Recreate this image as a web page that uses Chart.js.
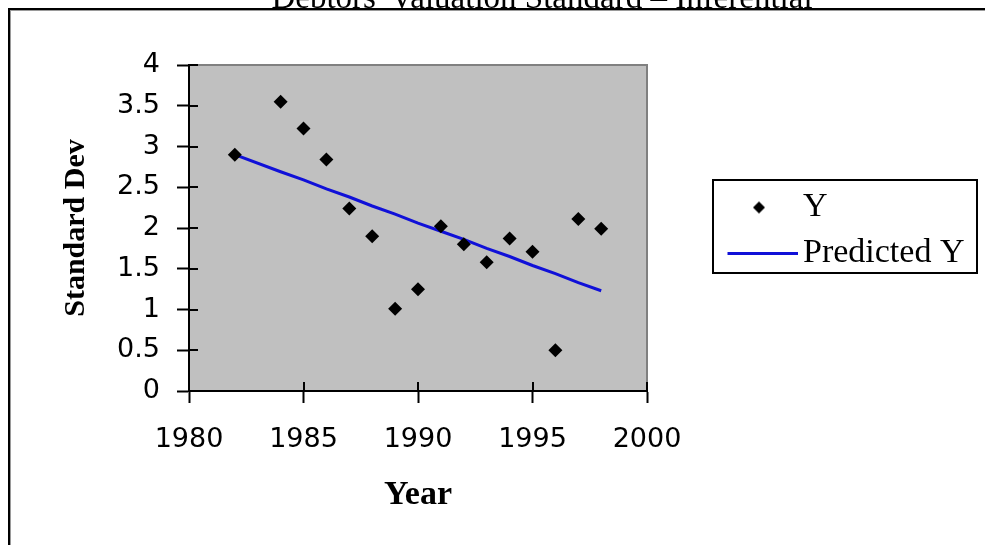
<!DOCTYPE html>
<html>
<head>
<meta charset="utf-8">
<title>Standard Dev by Year</title>
<script src="https://cdn.jsdelivr.net/npm/chart.js@4.4.0/dist/chart.umd.min.js"></script>
<style>
  html, body { margin: 0; padding: 0; background: #ffffff; }
  #wrap { width: 985px; height: 545px; position: relative; overflow: hidden; }
  canvas { display: block; }
</style>
</head>
<body>
<div id="wrap"><canvas id="chart" width="985" height="545"></canvas></div>
<script>
// ---- data ----
const chartTitle = "Debtors' Valuation Standard \u2013 Inferential";
const seriesNames = ['Y', 'Predicted Y'];
const axisTitleX = 'Year';
const axisTitleY = 'Standard Dev';

const years      = [1982, 1984, 1985, 1986, 1987, 1988, 1989, 1990, 1991, 1992, 1993, 1994, 1995, 1996, 1997, 1998];
const yValues    = [2.90, 3.55, 3.22, 2.84, 2.24, 1.90, 1.01, 1.25, 2.02, 1.80, 1.58, 1.87, 1.71, 0.50, 2.11, 1.99];
const predictedY = [2.90, 2.69, 2.59, 2.48, 2.38, 2.27, 2.17, 2.06, 1.96, 1.86, 1.75, 1.65, 1.54, 1.44, 1.33, 1.23];

const xTicks = [1980, 1985, 1990, 1995, 2000];
const yTicks = [0, 0.5, 1, 1.5, 2, 2.5, 3, 3.5, 4];

// ---- styles ----
const plotFill = '#c0c0c0';
const plotEdge = '#808080';
const lineBlue = '#1010d8';
const tickFont = { family: '"DejaVu Sans", sans-serif', size: 27 };
const serif = '"Liberation Serif", "Times New Roman", serif';

// small legend icons
function diamondIcon(r, shift) {
  const c = document.createElement('canvas');
  c.width = 2 * (r + Math.abs(shift)) + 4;
  c.height = 2 * r + 2;
  const g = c.getContext('2d');
  const cx = c.width / 2 + shift, cy = c.height / 2;
  g.fillStyle = '#000';
  g.beginPath();
  g.moveTo(cx - r, cy); g.lineTo(cx, cy - r); g.lineTo(cx + r, cy); g.lineTo(cx, cy + r);
  g.closePath(); g.fill();
  return c;
}
function lineIcon(len, lead, width, color) {
  const c = document.createElement('canvas');
  c.width = len + 2 * lead;
  c.height = width + 2;
  const g = c.getContext('2d');
  g.strokeStyle = color; g.lineWidth = width;
  g.beginPath();
  g.moveTo(2 * lead, c.height / 2); g.lineTo(c.width, c.height / 2);
  g.stroke();
  return c;
}
const iconY = diamondIcon(6, 2.5);
const iconPred = lineIcon(70, 6, 3, lineBlue);

// grey plot area with darker top/right edge
const plotArea = {
  id: 'plotArea',
  beforeDraw(chart) {
    const { ctx, chartArea: a } = chart;
    ctx.save();
    ctx.fillStyle = plotFill;
    ctx.fillRect(a.left, a.top, a.right - a.left, a.bottom - a.top);
    ctx.restore();
  },
  beforeDatasetsDraw(chart) {
    const { ctx, chartArea: a, scales } = chart;
    ctx.save();
    ctx.strokeStyle = plotEdge;
    ctx.lineWidth = 2;
    ctx.beginPath();
    ctx.moveTo(a.left, a.top); ctx.lineTo(a.right, a.top); ctx.lineTo(a.right, a.bottom);
    ctx.stroke();
    // inner half of the crossing tick marks
    ctx.strokeStyle = '#000';
    ctx.lineWidth = 2;
    ctx.beginPath();
    scales.x.ticks.forEach(t => {
      const px = Math.round(scales.x.getPixelForValue(t.value));
      ctx.moveTo(px, a.bottom); ctx.lineTo(px, a.bottom - 9);
    });
    scales.y.ticks.forEach(t => {
      const py = Math.round(scales.y.getPixelForValue(t.value));
      ctx.moveTo(a.left, py); ctx.lineTo(a.left + 9, py);
    });
    ctx.stroke();
    ctx.restore();
  }
};

// legend placed to the right of the plot, inside a bordered box
const legendFrame = { x: 713, y: 180, w: 264, h: 93 };
const legendBox = {
  id: 'legendBox',
  afterLayout(chart) {
    const lg = chart.legend;
    lg.left = 715; lg.top = 178.5; lg.width = 262; lg.height = 160;
    lg.right = lg.left + lg.width; lg.bottom = lg.top + lg.height;
  },
  afterDraw(chart) {
    const { ctx } = chart;
    ctx.save();
    ctx.strokeStyle = '#000';
    ctx.lineWidth = 2;
    ctx.strokeRect(legendFrame.x, legendFrame.y, legendFrame.w, legendFrame.h);
    ctx.restore();
  }
};

// chart title and outer frame
const frame = {
  id: 'frame',
  afterDraw(chart) {
    const { ctx, width, height } = chart;
    ctx.save();
    ctx.fillStyle = '#000';
    ctx.font = '33px ' + serif;
    ctx.textAlign = 'center';
    ctx.textBaseline = 'alphabetic';
    ctx.fillText(chartTitle, 542, 8);
    ctx.fillStyle = '#000';
    ctx.fillRect(8, 8, width - 8, 2);
    ctx.fillRect(8, 8, 2, height - 8);
    ctx.fillStyle = '#9a9a9a';
    ctx.fillRect(10, 10, width - 10, 1);
    ctx.fillRect(10, 10, 1, height - 10);
    ctx.restore();
  }
};

new Chart(document.getElementById('chart'), {
  type: 'scatter',
  data: {
    datasets: [
      {
        label: seriesNames[0],
        data: years.map((x, i) => ({ x, y: yValues[i] })),
        showLine: false,
        pointStyle: 'rectRot',
        pointRadius: 7,
        pointHoverRadius: 7,
        backgroundColor: '#000',
        borderColor: '#000',
        borderWidth: 0
      },
      {
        label: seriesNames[1],
        data: years.map((x, i) => ({ x, y: predictedY[i] })),
        showLine: true,
        borderColor: lineBlue,
        backgroundColor: lineBlue,
        borderWidth: 3,
        pointRadius: 0,
        pointHoverRadius: 0,
        tension: 0
      }
    ]
  },
  options: {
    responsive: false,
    animation: false,
    devicePixelRatio: 1,
    layout: { padding: { top: 65, left: 54, right: 338, bottom: 29 } },
    plugins: {
      tooltip: { enabled: false },
      title: { display: false },
      legend: {
        display: true,
        position: 'chartArea',
        align: 'start',
        labels: {
          usePointStyle: true,
          pointStyleWidth: 59,
          padding: 12,
          color: '#000',
          font: { family: serif, size: 34 },
          generateLabels: () => [
            { text: seriesNames[0], pointStyle: iconY, fillStyle: '#000', strokeStyle: '#000', lineWidth: 0, hidden: false, datasetIndex: 0 },
            { text: seriesNames[1], pointStyle: iconPred, fillStyle: lineBlue, strokeStyle: lineBlue, lineWidth: 0, hidden: false, datasetIndex: 1 }
          ]
        }
      }
    },
    scales: {
      x: {
        type: 'linear',
        position: 'bottom',
        min: xTicks[0],
        max: xTicks[xTicks.length - 1],
        afterBuildTicks: s => { s.ticks = xTicks.map(v => ({ value: v })); },
        afterFit: s => { s.height = 125; },
        ticks: { callback: v => String(v), font: tickFont, color: '#000', padding: 21, maxRotation: 0, autoSkip: false },
        grid: { drawOnChartArea: false, drawTicks: true, tickLength: 12, tickWidth: 2, tickColor: '#000' },
        border: { display: true, color: '#000', width: 2 },
        title: { display: true, text: axisTitleX, color: '#000', font: { family: serif, size: 34, weight: 'bold' }, padding: { top: 0, bottom: 0 } }
      },
      y: {
        type: 'linear',
        position: 'left',
        min: yTicks[0],
        max: yTicks[yTicks.length - 1],
        afterBuildTicks: s => { s.ticks = yTicks.map(v => ({ value: v })); },
        afterFit: s => { s.width = 135; },
        ticks: { callback: v => String(v), font: tickFont, color: '#000', padding: 17, autoSkip: false },
        grid: { drawOnChartArea: false, drawTicks: true, tickLength: 12, tickWidth: 2, tickColor: '#000' },
        border: { display: true, color: '#000', width: 2 },
        title: { display: true, text: axisTitleY, color: '#000', font: { family: serif, size: 30, weight: 'bold' }, padding: { top: 4, bottom: 0 } }
      }
    }
  },
  plugins: [plotArea, legendBox, frame]
});
</script>
</body>
</html>
